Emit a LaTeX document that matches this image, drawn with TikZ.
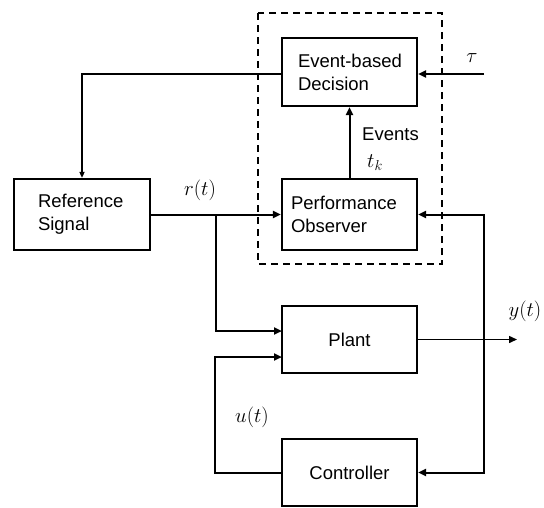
\documentclass[tikz,border=0pt]{standalone}
\usepackage{fontspec}
\setmainfont{Liberation Sans}
\usetikzlibrary{arrows.meta}
\begin{document}
\begin{tikzpicture}[x=1pt,y=-1pt,
  blk/.style={draw,line width=2.2pt,minimum height=68pt,inner sep=0pt,font=\fontsize{18.5}{23}\selectfont},
  lblk/.style={blk,align=left},
  conn/.style={line width=2pt,-{Triangle[length=8pt,width=7pt]}},
  thin/.style={line width=1.5pt,-{Triangle[length=6pt,width=5pt]}},
  outl/.style={line width=1.5pt,-{Triangle[length=8pt,width=7pt]}},
  mlab/.style={font=\fontsize{21}{25}\selectfont,inner sep=0pt},
  tlab/.style={font=\fontsize{18.5}{23}\selectfont,inner sep=0pt}]
\useasboundingbox (0,0) rectangle (544,507);
\fill[white] (0,0) rectangle (544,507);
% dashed frame
\draw[line width=2pt,dash pattern=on 7pt off 5pt] (258,13) rectangle (442,264);
% boxes
\node[lblk,text width=110pt,inner xsep=12.5pt,minimum height=68pt] (dec) at (349.5,72) {\hspace*{3.5pt}Event-based\\\hspace*{3.5pt}Decision};
\node[lblk,text width=117pt,inner xsep=9pt,minimum height=71pt] (obs) at (349.5,214.5) {Performance\\Observer};
\node[lblk,text width=88pt,inner xsep=24pt,minimum height=71pt] (ref) at (82,214.5) {Reference\\Signal};
\node[blk,minimum width=135pt,minimum height=67pt] (plant) at (349.5,339.5) {Plant};
\node[blk,minimum width=135pt,minimum height=67pt] (ctrl) at (349.5,472.5) {Controller};
% coordinates
\coordinate (taust) at (484,74);
\coordinate (rbr) at (216,215);
\coordinate (pin1) at (282,331);
\coordinate (pin2) at (282,357);
\coordinate (yend) at (517,339.5);
\coordinate (yb) at (484,339.5);
% connectors
\draw[thin] (dec.west |- taust) -| (ref.north);
\draw[conn] (taust) -- (dec.east |- taust);
\draw[conn] (obs.north) -- (dec.south);
\draw[conn] (ref.east) -- (obs.west);
\draw[conn] (rbr) |- (pin1);
\draw[conn] (ctrl.west) -| (215,357) -- (pin2);
\draw[outl] (plant.east) -- (yend);
\draw[conn] (yb) |- (obs.east);
\draw[conn] (yb) |- (ctrl.east);
% labels
\node[mlab] (tau) at (472,58) {$\tau$};
\node[tlab,anchor=west] (ev) at (362,134) {Events};
\node[mlab] (tk) at (375,163) {$t_k$};
\node[mlab] (rt) at (200,190) {$r(t)$};
\node[mlab] (ut) at (252,417) {$u(t)$};
\node[mlab] (yt) at (525,311) {$y(t)$};
\end{tikzpicture}
\end{document}
